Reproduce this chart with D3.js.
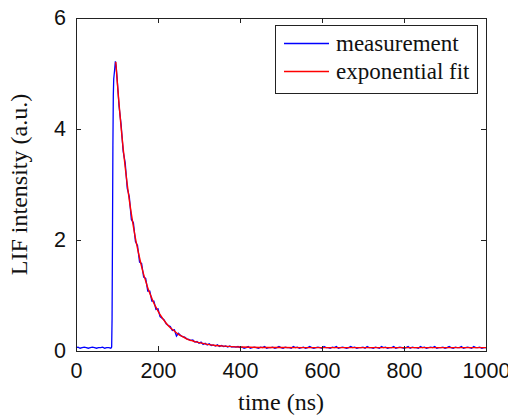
<!DOCTYPE html>
<html>
<head>
<meta charset="utf-8">
<script src="https://cdn.jsdelivr.net/npm/d3@7"></script>
<style>
  body { margin: 0; background: #fff; }
  svg { display: block; font-family: "Liberation Serif", "DejaVu Serif", serif; }
  .axis path, .axis line { stroke: #222; stroke-width: 1px; }
  .axis text { fill: #111; font-size: 21.5px; }
  .title { font-size: 24px; fill: #111; }
  .legend text { font-size: 23px; fill: #111; }
</style>
</head>
<body>
<svg id="chart"></svg>
<script>
// measurement: baseline + rising edge (explicit times)
const headTime  = [0, 5, 10, 15, 20, 25, 30, 35, 40, 45, 50, 55, 60, 65, 70, 75, 80, 85, 87, 88, 89, 90, 91, 92, 94, 96, 98];
const headValue = [0.06, 0.07, 0.05, 0.06, 0.07, 0.06, 0.05, 0.06, 0.07, 0.06, 0.05, 0.06, 0.06, 0.07, 0.05, 0.06, 0.06, 0.05,
                   0.07, 0.6, 2.1, 3.7, 4.6, 4.9, 5.05, 5.22, 5.12];

// measurement: decay, sampled every 5 ns from 100 to 400
const decayValue = [4.94, 4.41, 4.08, 3.60, 3.39, 2.93, 2.78, 2.37, 2.31, 1.97,
                    1.90, 1.60, 1.58, 1.33, 1.31, 1.08, 1.08, 0.90, 0.90, 0.75,
                    0.76, 0.62, 0.59, 0.56, 0.49, 0.46, 0.44, 0.37, 0.38, 0.27,
                    0.32, 0.28, 0.26, 0.25, 0.22, 0.21, 0.19, 0.20, 0.16, 0.17,
                    0.14, 0.16, 0.12, 0.14, 0.11, 0.13, 0.10, 0.11, 0.09, 0.11,
                    0.08, 0.10, 0.08, 0.09, 0.07, 0.09, 0.07, 0.08, 0.07, 0.08,
                    0.06];

// measurement: flat tail, every 5 ns from 405 to 1000
const tailValue = [0.07,0.05,0.06,0.08,0.05,0.06,0.07,0.06,0.05,0.07,
                   0.06,0.08,0.05,0.06,0.06,0.07,0.05,0.06,0.08,0.06,
                   0.05,0.07,0.06,0.06,0.05,0.08,0.06,0.07,0.05,0.06,
                   0.07,0.05,0.06,0.08,0.06,0.05,0.06,0.07,0.06,0.05,
                   0.08,0.06,0.06,0.05,0.07,0.06,0.08,0.05,0.06,0.07,
                   0.06,0.05,0.06,0.08,0.06,0.07,0.05,0.06,0.06,0.07,
                   0.05,0.08,0.06,0.06,0.05,0.07,0.06,0.05,0.08,0.06,
                   0.07,0.05,0.06,0.06,0.08,0.05,0.06,0.07,0.06,0.05,
                   0.06,0.08,0.05,0.07,0.06,0.06,0.05,0.08,0.06,0.07,
                   0.05,0.06,0.07,0.06,0.08,0.05,0.06,0.06,0.07,0.05,
                   0.06,0.08,0.06,0.05,0.07,0.06,0.06,0.08,0.05,0.06,
                   0.07,0.06,0.05,0.08,0.06,0.06,0.07,0.05,0.06,0.06];

// exponential fit
const fitTime  = [97, 100, 105, 110, 115, 120, 125, 130, 135, 140, 145, 150, 155, 160, 165, 170, 175, 180, 185, 190,
                  195, 200, 210, 220, 230, 240, 250, 260, 270, 280, 290, 300, 320, 340, 360, 380, 400, 450, 500,
                  600, 700, 800, 900, 1000];
const fitValue = [5.21, 4.91, 4.45, 4.03, 3.65, 3.31, 3.00, 2.72, 2.47, 2.24, 2.03, 1.85, 1.68, 1.52, 1.38, 1.26, 1.14, 1.04, 0.95, 0.86,
                  0.79, 0.72, 0.60, 0.50, 0.42, 0.36, 0.30, 0.26, 0.22, 0.19, 0.17, 0.15, 0.12, 0.10, 0.087, 0.078, 0.072, 0.064, 0.062,
                  0.06, 0.06, 0.06, 0.06, 0.06];

const xTicks = [0, 200, 400, 600, 800, 1000];
const yTicks = [0, 2, 4, 6];
const seriesNames = ['measurement', 'exponential fit'];
const seriesColors = ['#0000ff', '#ff0000'];

const width = 508, height = 418;
const margin = {top: 18, right: 22, bottom: 67, left: 76};

const measurement = headTime.map((t, i) => [t, headValue[i]])
    .concat(decayValue.map((v, i) => [100 + 5 * i, v]))
    .concat(tailValue.map((v, i) => [405 + 5 * i, v]));
const fit = fitTime.map((t, i) => [t, fitValue[i]]);

const svg = d3.select('#chart')
    .attr('width', width)
    .attr('height', height);

const x = d3.scaleLinear().domain([0, 1000]).range([margin.left, width - margin.right]);
const y = d3.scaleLinear().domain([0, 6]).range([height - margin.bottom, margin.top]);

const line = d3.line()
    .x(d => x(d[0]))
    .y(d => y(d[1]));

svg.append('path')
    .datum(measurement)
    .attr('fill', 'none')
    .attr('stroke', seriesColors[0])
    .attr('stroke-width', 1.3)
    .attr('d', line);

svg.append('path')
    .datum(fit)
    .attr('fill', 'none')
    .attr('stroke', seriesColors[1])
    .attr('stroke-width', 1.4)
    .attr('d', line.curve(d3.curveMonotoneX));

// axes: ticks pointing inward on all four sides
const fmt = d3.format('d');
svg.append('g').attr('class', 'axis')
    .attr('transform', `translate(0,${y(0)})`)
    .call(d3.axisBottom(x).tickValues(xTicks).tickFormat(fmt).tickSize(-5).tickSizeOuter(0).tickPadding(12));
svg.append('g').attr('class', 'axis')
    .attr('transform', `translate(0,${y(6)})`)
    .call(d3.axisTop(x).tickValues(xTicks).tickSize(-5).tickSizeOuter(0).tickFormat(''));
svg.append('g').attr('class', 'axis')
    .attr('transform', `translate(${x(0)},0)`)
    .call(d3.axisLeft(y).tickValues(yTicks).tickFormat(fmt).tickSize(-5).tickSizeOuter(0).tickPadding(10));
svg.append('g').attr('class', 'axis')
    .attr('transform', `translate(${x(1000)},0)`)
    .call(d3.axisRight(y).tickValues(yTicks).tickSize(-5).tickSizeOuter(0).tickFormat(''));

svg.selectAll('.axis .domain').attr('stroke-linecap', 'square');

svg.append('text').attr('class', 'title')
    .attr('x', (x(0) + x(1000)) / 2)
    .attr('y', 410)
    .attr('text-anchor', 'middle')
    .text('time (ns)');

svg.append('text').attr('class', 'title')
    .attr('transform', `translate(27,${(y(0) + y(6)) / 2}) rotate(-90)`)
    .attr('text-anchor', 'middle')
    .text('LIF intensity (a.u.)');

// legend
const lg = svg.append('g').attr('class', 'legend');
lg.append('rect')
    .attr('x', 275.5).attr('y', 25.5)
    .attr('width', 202).attr('height', 68)
    .attr('fill', '#fff')
    .attr('stroke', '#222');
seriesNames.forEach((name, i) => {
    const cy = 43.5 + i * 28;
    lg.append('line')
        .attr('x1', 284).attr('x2', 329)
        .attr('y1', cy).attr('y2', cy)
        .attr('stroke', seriesColors[i])
        .attr('stroke-width', 1.5);
    lg.append('text')
        .attr('x', 336).attr('y', cy)
        .attr('dy', '0.32em')
        .text(name);
});
</script>
</body>
</html>
